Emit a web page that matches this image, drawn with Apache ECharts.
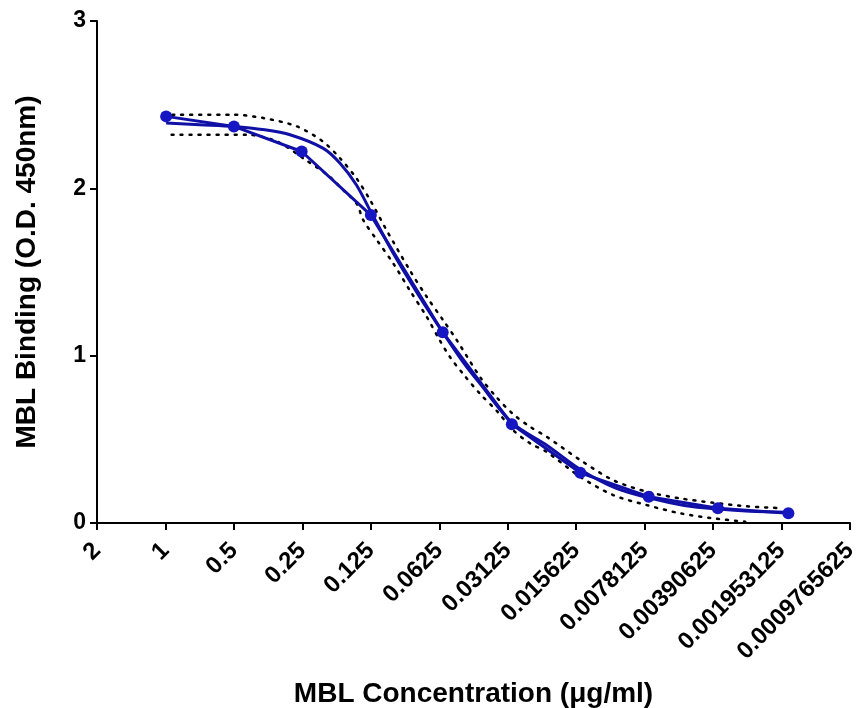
<!DOCTYPE html>
<html>
<head>
<meta charset="utf-8">
<script src="https://cdn.jsdelivr.net/npm/echarts@6/dist/echarts.min.js"></script>
<style>
  html, body { margin: 0; padding: 0; background: #fff; }
  #chart { width: 859px; height: 708px; }
</style>
</head>
<body>
<div id="chart"></div>
<script>
// tick labels along the dilution axis (position 0..11)
var tickLabels = ['2', '1', '0.5', '0.25', '0.125', '0.0625', '0.03125', '0.015625',
  '0.0078125', '0.00390625', '0.001953125', '0.0009765625'];

// measured points: [axis position, O.D.]
var measured = [[1.01, 2.43], [2.0, 2.37], [2.99, 2.22], [4.0, 1.84], [5.05, 1.14],
  [6.06, 0.59], [7.06, 0.30], [8.06, 0.157], [9.07, 0.088], [10.1, 0.058]];

// fitted curve
var fitCurve = [[1.01, 2.39], [1.5, 2.38], [2.0, 2.37], [2.45, 2.35], [2.82, 2.32],
  [3.3, 2.24], [3.55, 2.15], [3.79, 2.02], [4.0, 1.86], [4.33, 1.61], [4.7, 1.36],
  [5.05, 1.14], [5.35, 0.96], [5.6, 0.83], [6.06, 0.60], [6.57, 0.465], [7.06, 0.32],
  [7.57, 0.21], [8.06, 0.15], [8.58, 0.105], [9.07, 0.083], [9.54, 0.07], [10.1, 0.064]];

// confidence bands (dotted)
var upperBand = [[1.1, 2.44], [1.99, 2.44], [2.43, 2.42], [2.92, 2.37], [3.3, 2.28],
  [3.55, 2.18], [3.79, 2.06], [3.99, 1.93], [4.23, 1.75], [4.57, 1.51], [4.82, 1.35],
  [5.06, 1.21], [5.26, 1.09], [5.6, 0.87], [5.84, 0.75], [6.08, 0.65], [6.33, 0.574],
  [6.57, 0.515], [7.06, 0.376], [7.54, 0.256], [8.03, 0.187], [8.52, 0.147],
  [9.0, 0.121], [9.49, 0.10], [10.02, 0.088]];
var lowerBand = [[1.09, 2.32], [2.19, 2.32], [2.63, 2.28], [3.01, 2.18], [3.4, 2.07],
  [3.57, 2.0], [3.79, 1.91], [3.89, 1.81], [4.09, 1.69], [4.33, 1.55], [4.57, 1.39],
  [4.82, 1.23], [5.01, 1.09], [5.16, 0.99], [5.35, 0.89], [5.6, 0.77], [5.84, 0.67],
  [6.08, 0.555], [6.33, 0.475], [6.57, 0.425], [7.06, 0.276], [7.54, 0.167],
  [8.03, 0.107], [8.52, 0.058], [9.0, 0.028], [9.47, 0.008]];

var chart = echarts.init(document.getElementById('chart'));

var font = 'Liberation Sans, Arial, sans-serif';
var blue = '#1010a6';

var option = {
  animation: false,
  grid: { left: 97, right: 9, top: 21, bottom: 185, containLabel: false, outerBoundsMode: 'none' },
  xAxis: {
    type: 'value', min: 0, max: 11, interval: 1,
    name: 'MBL Concentration (μg/ml)',
    nameLocation: 'middle', nameGap: 157,
    nameTextStyle: { fontFamily: font, fontWeight: 'bold', fontSize: 28, color: '#000' },
    axisLine: { lineStyle: { color: '#000', width: 2 } },
    axisTick: { show: true, length: 7, lineStyle: { color: '#000', width: 2 } },
    splitLine: { show: false },
    axisLabel: {
      rotate: 45, margin: 24, fontFamily: font, fontWeight: 'bold', fontSize: 24, color: '#000',
      showMinLabel: true, showMaxLabel: true,
      formatter: function (v) { return tickLabels[Math.round(v)]; }
    }
  },
  yAxis: {
    type: 'value', min: 0, max: 3, interval: 1,
    name: 'MBL Binding (O.D. 450nm)',
    nameLocation: 'middle', nameGap: 56,
    nameTextStyle: { fontFamily: font, fontWeight: 'bold', fontSize: 28, color: '#000' },
    axisLine: { show: true, lineStyle: { color: '#000', width: 2 } },
    axisTick: { show: true, length: 7, lineStyle: { color: '#000', width: 2 } },
    splitLine: { show: false },
    axisLabel: { margin: 11, fontFamily: font, fontWeight: 'bold', fontSize: 23, color: '#000' }
  },
  series: [
    {
      type: 'line', data: upperBand, showSymbol: false, smooth: 0.3,
      lineStyle: { color: '#000', width: 2.5, type: [2, 7], cap: 'round' }
    },
    {
      type: 'line', data: lowerBand, showSymbol: false, smooth: 0.3,
      lineStyle: { color: '#000', width: 2.5, type: [2, 7], cap: 'round' }
    },
    {
      type: 'line', data: fitCurve, showSymbol: false, smooth: 0.3,
      lineStyle: { color: blue, width: 3 }
    },
    {
      type: 'line', data: measured, symbol: 'circle', symbolSize: 12,
      itemStyle: { color: '#1616c2' },
      lineStyle: { color: blue, width: 3 }
    }
  ]
};

chart.setOption(option);
</script>
</body>
</html>
